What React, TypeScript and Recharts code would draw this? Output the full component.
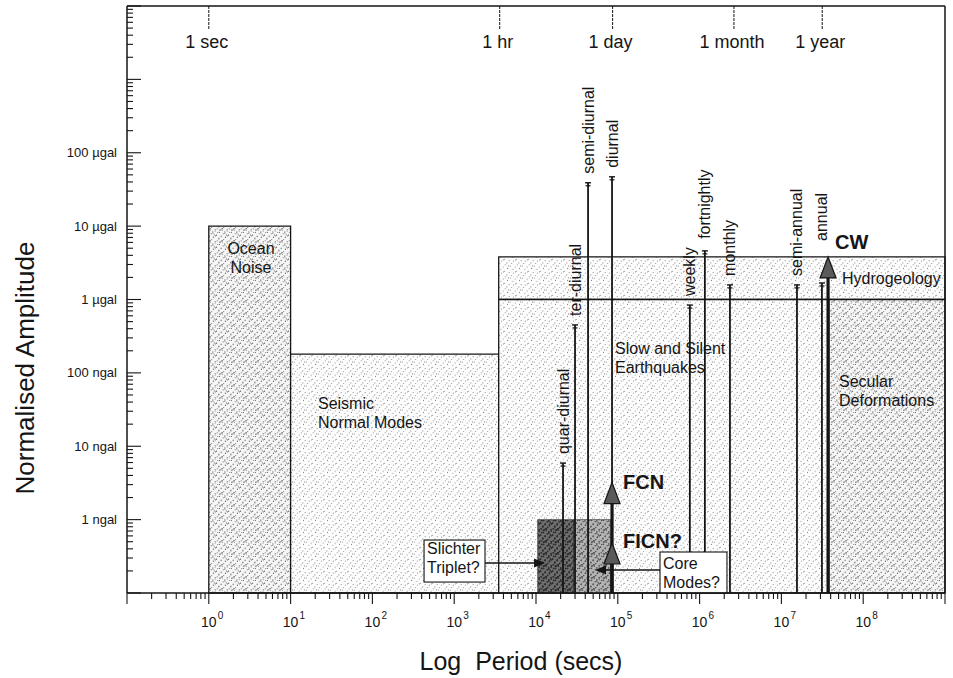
import {
  ComposedChart, XAxis, YAxis, ReferenceArea, ReferenceLine, ReferenceDot,
} from "recharts"

// x = period (s), y = normalised amplitude (ngal)
const regions = [
  { key: "ocean", x1: 1, x2: 10, y1: 0.1, y2: 1e4 },
  { key: "seismic", x1: 10, x2: 3500, y1: 0.1, y2: 180 },
  { key: "hydro", x1: 3500, x2: 1e9, y1: 1000, y2: 3800 },
  { key: "slow", x1: 3500, x2: 3.8e7, y1: 0.1, y2: 1000 },
  { key: "secular", x1: 3.8e7, x2: 1e9, y1: 0.1, y2: 1000 },
  { key: "slichter", x1: 1.05e4, x2: 2.9e4, y1: 0.1, y2: 1 },
  { key: "core", x1: 2.9e4, x2: 8.2e4, y1: 0.1, y2: 1 },
]

const tides = [
  { name: "quar-diurnal", period: 2.14e4, amp: 5.9 },
  { name: "ter-diurnal", period: 3.0e4, amp: 450 },
  { name: "semi-diurnal", period: 4.33e4, amp: 3.9e4 },
  { name: "diurnal", period: 8.5e4, amp: 4.7e4 },
  { name: "weekly", period: 7.6e5, amp: 840 },
  { name: "fortnightly", period: 1.16e6, amp: 4600 },
  { name: "monthly", period: 2.35e6, amp: 1580 },
  { name: "semi-annual", period: 1.55e7, amp: 1580 },
  { name: "annual", period: 3.13e7, amp: 1680 },
]

const modes = [
  { name: "FCN", period: 8.5e4, amp: 3.2 },
  { name: "FICN?", period: 8.5e4, amp: 0.48 },
  { name: "CW", period: 3.72e7, amp: 3800 },
]

// annotation boxes and the arrows pointing from them
const boxes = [
  { key: "slichter", x1: 428, x2: 2380, y1: 0.141, y2: 0.527, from: 2380, tip: 1.29e4, at: 0.256 },
  { key: "core", x1: 3.28e5, x2: 2.16e6, y1: 0.1, y2: 0.362, from: 3.28e5, tip: 5.26e4, at: 0.206 },
]

const notes = [
  { lines: ["Ocean", "Noise"], x: 3.28, y: 4170, center: true },
  { lines: ["Seismic", "Normal Modes"], x: 21.6, y: 32.2 },
  { lines: ["Slow and Silent", "Earthquakes"], x: 9.25e4, y: 181 },
  { lines: ["Secular", "Deformations"], x: 5.06e7, y: 64.2 },
  { lines: ["Hydrogeology"], x: 5.5e7, y: 1626 },
  { lines: ["Slichter", "Triplet?"], x: 465, y: 0.34 },
  { lines: ["Core", "Modes?"], x: 3.57e5, y: 0.212 },
  { lines: ["FCN"], x: 1.16e5, y: 2.61, bold: true },
  { lines: ["FICN?"], x: 1.16e5, y: 0.41, bold: true },
  { lines: ["CW"], x: 4.52e7, y: 4880, bold: true },
]

const yLabels: Record<number, string> = {
  1: "1 ngal", 10: "10 ngal", 100: "100 ngal",
  1000: "1 µgal", 10000: "10 µgal", 100000: "100 µgal",
}
const xLabelExps = [0, 1, 2, 3, 4, 5, 6, 7, 8]
const topTicks = [1, 3600, 86400, 2.63e6, 3.156e7]
const topLabels = ["1 sec", "1 hr", "1 day", "1 month", "1 year"]

const FONT = "'Liberation Sans', Arial, Helvetica, sans-serif"
const INK = "#151515"
const Y_MIN = 0.1
const Y_MAX = 1e7

// extra space between a tide's cap and its label (annual sits above the CW head)
const labelGap: Record<string, number> = { annual: 33, fortnightly: 3 }

function logTicks(lo: number, hi: number) {
  const out: number[] = []
  for (let e = lo; e < hi; e++) for (let m = 1; m < 10; m++) out.push(m * 10 ** e)
  out.push(10 ** hi)
  return out
}
const xTicks = logTicks(-1, 9)
const yTicks = logTicks(-1, 7)

const isMajor = (v: number) => {
  const n = Math.round(Math.log10(v))
  return Math.abs(v - 10 ** n) < 1e-6 * v
}

const fills: Record<string, string> = {
  ocean: "url(#dense)", seismic: "url(#light)", hydro: "url(#light)", slow: "url(#light)",
  secular: "url(#dense)", slichter: "url(#dark)", core: "url(#mid)",
}

// irregular dot layout for the stipple tiles
const DOTS = [
  [1.2, 0.8], [6.3, 2.1], [3.5, 4.4], [8.9, 5.2], [0.6, 7.3], [5.2, 8.6],
  [9.4, 9.1], [2.8, 10.9], [7.7, 11.5], [11.2, 3.0], [11.6, 7.9], [4.4, 1.9],
]

function Stipple({ id, bg, dot, r, extra }: { id: string; bg: string; dot: string; r: number; extra?: boolean }) {
  return (
    <pattern id={id} width={12} height={12} patternUnits="userSpaceOnUse">
      <rect width={12} height={12} fill={bg} />
      {DOTS.map(([x, y], i) => <circle key={i} cx={x} cy={y} r={r} fill={dot} />)}
      {extra && DOTS.map(([x, y], i) => <circle key={"e" + i} cx={(x + 6) % 12} cy={(y + 5) % 12} r={r} fill={dot} />)}
    </pattern>
  )
}

function LeftTick(p: any) {
  const v = p.payload.value
  const major = isMajor(v)
  const label = yLabels[Math.round(v)]
  return (
    <g>
      <line x1={p.x} x2={p.x + (major ? 14 : 6)} y1={p.y} y2={p.y} stroke={INK} strokeWidth={1.1} />
      {major && label && Math.abs(v - Math.round(v)) < 1e-6 && (
        <text x={p.x - 10} y={p.y + 4.5} textAnchor="end" fontSize={13} fontFamily={FONT} fill={INK}>{label}</text>
      )}
    </g>
  )
}

function BottomTick(p: any) {
  const v = p.payload.value
  const major = isMajor(v)
  const n = Math.round(Math.log10(v))
  return (
    <g>
      <line x1={p.x} x2={p.x} y1={p.y} y2={p.y + (major ? 11 : 6)} stroke={INK} strokeWidth={1.1} />
      {major && xLabelExps.includes(n) && (
        <g fontFamily={FONT} fill={INK}>
          <text x={p.x} y={p.y + 34} textAnchor="middle" fontSize={14}>10</text>
          <text x={p.x + 9} y={p.y + 26} fontSize={10}>{n}</text>
        </g>
      )}
    </g>
  )
}

function TopTick(p: any) {
  const x = p.x1
  const y = Math.min(p.y1, p.y2)
  return (
    <g>
      <line x1={x} x2={x} y1={y} y2={y + 24} stroke={INK} strokeWidth={1} strokeDasharray="3 1" />
      <text x={x - 2} y={y + 42} textAnchor="middle" fontSize={18} fontFamily={FONT} fill={INK}>{p.text}</text>
    </g>
  )
}

function TideLine(p: any) {
  const top = Math.min(p.y1, p.y2)
  const bot = Math.max(p.y1, p.y2)
  const x = p.x1
  return (
    <g>
      <line x1={x} x2={x} y1={bot} y2={top} stroke={INK} strokeWidth={1.8} />
      <line x1={x - 3} x2={x + 3} y1={top} y2={top} stroke={INK} strokeWidth={1.4} />
      <line x1={x - 2.5} x2={x + 2.5} y1={top + 3} y2={top + 3} stroke={INK} strokeWidth={1.2} />
      <text transform={`translate(${x + 5.5},${top - 9 - (p.gap || 0)}) rotate(-90)`} fontSize={16} fontFamily={FONT} fill={INK}>
        {p.text}
      </text>
    </g>
  )
}

function ModeArrow(p: any) {
  const top = Math.min(p.y1, p.y2)
  const bot = Math.max(p.y1, p.y2)
  const x = p.x1
  return (
    <g>
      <line x1={x} x2={x} y1={bot} y2={top + 16} stroke={INK} strokeWidth={3.2} />
      <polygon points={`${x},${top} ${x - 8},${top + 21} ${x + 8},${top + 21}`} fill="#5a5a5a" stroke={INK} strokeWidth={1.2} />
    </g>
  )
}

function Pointer(p: any) {
  const dir = Math.sign(p.x2 - p.x1)
  const { x2, y2 } = p
  return (
    <g>
      <line x1={p.x1} x2={x2 - dir * 8} y1={p.y1} y2={y2} stroke={INK} strokeWidth={1.6} />
      <polygon points={`${x2},${y2} ${x2 - dir * 11},${y2 - 4.5} ${x2 - dir * 11},${y2 + 4.5}`} fill={INK} />
    </g>
  )
}

function NoteBox(p: any) {
  const x = Math.min(p.x1, p.x2)
  const y = Math.min(p.y1, p.y2)
  return <rect x={x} y={y} width={Math.abs(p.x2 - p.x1)} height={Math.abs(p.y2 - p.y1)} fill="#fff" stroke={INK} strokeWidth={1.1} />
}

function Note(p: any) {
  const n = p.note
  return (
    <text
      x={p.cx} y={p.cy} fontFamily={FONT} fill={INK}
      fontSize={n.bold ? 20 : 16} fontWeight={n.bold ? 700 : 400}
      textAnchor={n.center ? "middle" : "start"}
    >
      {n.lines.map((l: string, i: number) => (
        <tspan key={i} x={p.cx} dy={i === 0 ? 0 : 19}>{l}</tspan>
      ))}
    </text>
  )
}

export default function App() {
  return (
    <div style={{ position: "absolute", left: 0, top: 0, background: "#fff" }}>
      <ComposedChart width={953} height={678} data={[]} margin={{ top: 6, right: 8, left: 0, bottom: 0 }}>
        <defs>
          <Stipple id="light" bg="#fdfdfd" dot="#8a8a8a" r={0.55} />
          <Stipple id="dense" bg="#f6f6f6" dot="#7a7a7a" r={0.6} extra />
          <Stipple id="mid" bg="#b4b4b4" dot="#555" r={0.8} extra />
          <Stipple id="dark" bg="#6e6e6e" dot="#2a2a2a" r={0.9} extra />
        </defs>

        <XAxis
          dataKey="x" type="number" scale="log" domain={[0.1, 1e9]} allowDataOverflow
          ticks={xTicks} interval={0} height={85} tickSize={0} tickMargin={0} tickLine={false}
          tick={(p: any) => <BottomTick {...p} />}
          axisLine={{ stroke: INK, strokeWidth: 1.5 }}
          label={(p: any) => {
            const vb = p.viewBox
            return (
              <text x={vb.x + 394} y={vb.y + 77} textAnchor="middle" fontSize={25} fontFamily={FONT} fill={INK} style={{ whiteSpace: "pre" }}>
                Log  Period (secs)
              </text>
            )
          }}
        />
        <YAxis
          type="number" scale="log" domain={[Y_MIN, Y_MAX]} allowDataOverflow
          ticks={yTicks} interval={0} width={127} tickSize={0} tickMargin={0} tickLine={false}
          tick={(p: any) => <LeftTick {...p} />}
          axisLine={{ stroke: INK, strokeWidth: 1.5 }}
          label={(p: any) => {
            const vb = p.viewBox
            return (
              <text transform={`translate(${vb.x + 34},${vb.y + 362}) rotate(-90)`} textAnchor="middle" fontSize={26} fontFamily={FONT} fill={INK}>
                Normalised Amplitude
              </text>
            )
          }}
        />

        {regions.map((r) => (
          <ReferenceArea
            key={r.key} x1={r.x1} x2={r.x2} y1={r.y1} y2={r.y2} ifOverflow="visible"
            fill={fills[r.key]} fillOpacity={1} stroke={INK} strokeWidth={r.key === "slichter" || r.key === "core" ? 0.6 : 1.3}
          />
        ))}
        <ReferenceLine x={1e9} stroke={INK} strokeWidth={1.5} ifOverflow="visible" />
        <ReferenceLine y={Y_MAX} stroke={INK} strokeWidth={1.5} ifOverflow="visible" />
        {topTicks.map((t, i) => (
          <ReferenceLine
            key={"top" + t} ifOverflow="visible"
            segment={[{ x: t, y: Y_MAX }, { x: t, y: Y_MAX }]}
            shape={(p: any) => <TopTick {...p} text={topLabels[i]} />}
          />
        ))}

        {tides.map((t) => (
          <ReferenceLine
            key={t.name} ifOverflow="visible"
            segment={[{ x: t.period, y: Y_MIN }, { x: t.period, y: t.amp }]}
            shape={(p: any) => <TideLine {...p} text={t.name} gap={labelGap[t.name]} />}
          />
        ))}
        {modes.map((m) => (
          <ReferenceLine
            key={m.name} ifOverflow="visible"
            segment={[{ x: m.period, y: Y_MIN }, { x: m.period, y: m.amp }]}
            shape={(p: any) => <ModeArrow {...p} />}
          />
        ))}
        {boxes.map((b) => (
          <ReferenceLine
            key={b.key} ifOverflow="visible"
            segment={[{ x: b.x1, y: b.y1 }, { x: b.x2, y: b.y2 }]}
            shape={(p: any) => <NoteBox {...p} />}
          />
        ))}
        {boxes.map((b) => (
          <ReferenceLine
            key={b.key + "-arrow"} ifOverflow="visible"
            segment={[{ x: b.from, y: b.at }, { x: b.tip, y: b.at }]}
            shape={(p: any) => <Pointer {...p} />}
          />
        ))}
        {notes.map((n) => (
          <ReferenceDot
            key={n.lines[0]} x={n.x} y={n.y} r={0} ifOverflow="visible"
            shape={(p: any) => <Note {...p} note={n} />}
          />
        ))}
      </ComposedChart>
    </div>
  )
}
